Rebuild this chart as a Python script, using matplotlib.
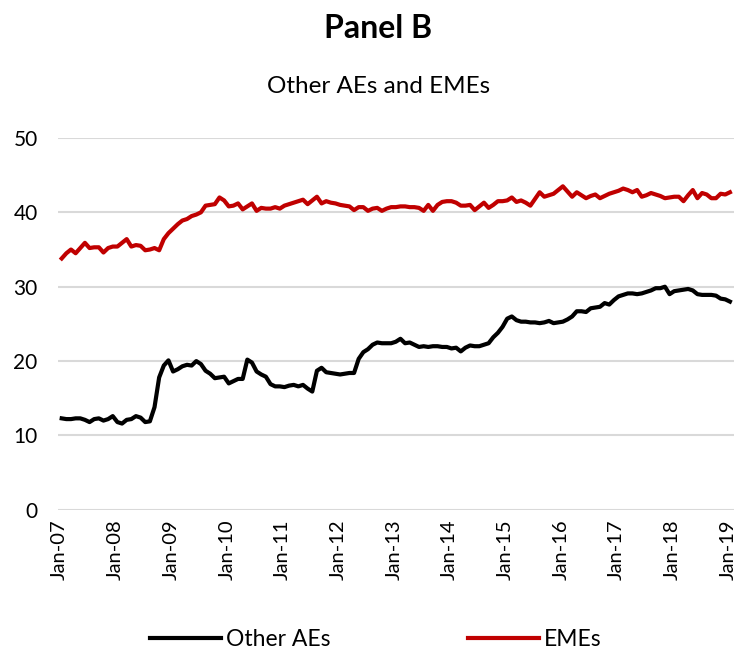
import matplotlib
matplotlib.use("Agg")
import matplotlib.pyplot as plt
import matplotlib.transforms as mtransforms
import numpy as np

plt.rcParams['font.family'] = ['Lato', 'DejaVu Sans']

years = ["07", "08", "09", "10", "11", "12", "13", "14", "15", "16", "17", "18", "19"]
tick_labels = ["Jan-" + y for y in years]

other_aes = [
    12.3, 12.2, 12.2, 12.3, 12.3, 12.1, 11.8, 12.2, 12.3, 12.0, 12.2, 12.6,   # 2007
    11.8, 11.6, 12.1, 12.2, 12.6, 12.4, 11.8, 11.9, 13.8, 17.8, 19.4, 20.1,   # 2008
    18.6, 18.9, 19.3, 19.5, 19.4, 20.0, 19.6, 18.7, 18.3, 17.7, 17.8, 17.9,   # 2009
    17.0, 17.3, 17.6, 17.6, 20.2, 19.8, 18.6, 18.2, 17.9, 16.9, 16.6, 16.6,   # 2010
    16.5, 16.7, 16.8, 16.6, 16.8, 16.3, 15.9, 18.7, 19.1, 18.5, 18.4, 18.3,   # 2011
    18.2, 18.3, 18.4, 18.4, 20.3, 21.2, 21.6, 22.2, 22.5, 22.4, 22.4, 22.4,   # 2012
    22.6, 23.0, 22.4, 22.5, 22.2, 21.9, 22.0, 21.9, 22.0, 22.0, 21.9, 21.9,   # 2013
    21.7, 21.8, 21.3, 21.8, 22.1, 22.0, 22.0, 22.2, 22.4, 23.2, 23.8, 24.6,   # 2014
    25.7, 26.0, 25.5, 25.3, 25.3, 25.2, 25.2, 25.1, 25.2, 25.4, 25.1, 25.2,   # 2015
    25.3, 25.6, 26.0, 26.7, 26.7, 26.6, 27.1, 27.2, 27.3, 27.8, 27.6, 28.2,   # 2016
    28.7, 28.9, 29.1, 29.1, 29.0, 29.1, 29.3, 29.5, 29.8, 29.8, 30.0, 29.0,   # 2017
    29.4, 29.5, 29.6, 29.7, 29.5, 29.0, 28.9, 28.9, 28.9, 28.8, 28.4, 28.3,   # 2018
    28.0,                                                                      # Jan-19
]

emes = [
    33.8, 34.5, 35.0, 34.5, 35.2, 35.9, 35.2, 35.3, 35.3, 34.6, 35.2, 35.4,   # 2007
    35.4, 35.9, 36.4, 35.4, 35.6, 35.5, 34.9, 35.0, 35.2, 34.9, 36.4, 37.2,   # 2008
    37.8, 38.4, 38.9, 39.1, 39.5, 39.7, 40.0, 40.9, 41.0, 41.1, 42.0, 41.6,   # 2009
    40.8, 40.9, 41.2, 40.4, 40.8, 41.2, 40.2, 40.6, 40.5, 40.5, 40.7, 40.5,   # 2010
    40.9, 41.1, 41.3, 41.5, 41.7, 41.1, 41.6, 42.1, 41.2, 41.5, 41.3, 41.2,   # 2011
    41.0, 40.9, 40.8, 40.3, 40.7, 40.7, 40.2, 40.5, 40.6, 40.2, 40.5, 40.7,   # 2012
    40.7, 40.8, 40.8, 40.7, 40.7, 40.6, 40.2, 41.0, 40.2, 41.0, 41.4, 41.5,   # 2013
    41.5, 41.3, 40.9, 40.9, 41.0, 40.3, 40.8, 41.3, 40.6, 41.0, 41.5, 41.5,   # 2014
    41.6, 42.0, 41.4, 41.6, 41.3, 40.9, 41.8, 42.7, 42.1, 42.3, 42.5, 43.0,   # 2015
    43.5, 42.8, 42.1, 42.7, 42.3, 41.9, 42.2, 42.4, 41.9, 42.2, 42.5, 42.7,   # 2016
    42.9, 43.2, 43.0, 42.7, 43.0, 42.1, 42.3, 42.6, 42.4, 42.2, 41.9, 42.0,   # 2017
    42.1, 42.1, 41.5, 42.3, 43.0, 41.9, 42.6, 42.4, 41.9, 41.9, 42.5, 42.4,   # 2018
    42.7,                                                                      # Jan-19
]

x = np.arange(len(other_aes))

fig = plt.figure(figsize=(7.4, 6.57), dpi=100)
ax = fig.add_axes([0.079, 0.224, 0.913, 0.566])

ax.plot(x, other_aes, color="#000000", lw=3.0, solid_joinstyle="round", label="Other AEs", zorder=3)
ax.plot(x, emes, color="#C00000", lw=3.0, solid_joinstyle="round", label="EMEs", zorder=3)

ax.set_ylim(0, 50)
ax.set_yticks([0, 10, 20, 30, 40, 50])
ax.set_xlim(-0.7, 144.9)
ax.set_xticks(np.arange(0, len(other_aes), 12))
ax.set_xticklabels(tick_labels, rotation=90, fontsize=14.5)
ax.tick_params(axis="y", labelsize=15, length=0, pad=15)
ax.tick_params(axis="x", length=0, pad=7)
ax.grid(axis="y", color="#d9d9d9", lw=1.5, zorder=0)
for s in ax.spines.values():
    s.set_visible(False)

shift = mtransforms.ScaledTranslation(-2 / 100, 0, fig.dpi_scale_trans)
for lbl in ax.get_xticklabels():
    lbl.set_transform(lbl.get_transform() + shift)

fig.text(0.511, 0.957, "Panel B", ha="center", va="center", fontsize=23, fontweight="bold")
fig.text(0.511, 0.868, "Other AEs and EMEs", ha="center", va="center", fontsize=17.5)

fig.legend(loc="center", bbox_to_anchor=(0.508, 0.026), ncol=2, frameon=False,
           fontsize=16.5, handlelength=3.1, handletextpad=0.22, columnspacing=6.0)

fig.savefig("out.png", dpi=100)
